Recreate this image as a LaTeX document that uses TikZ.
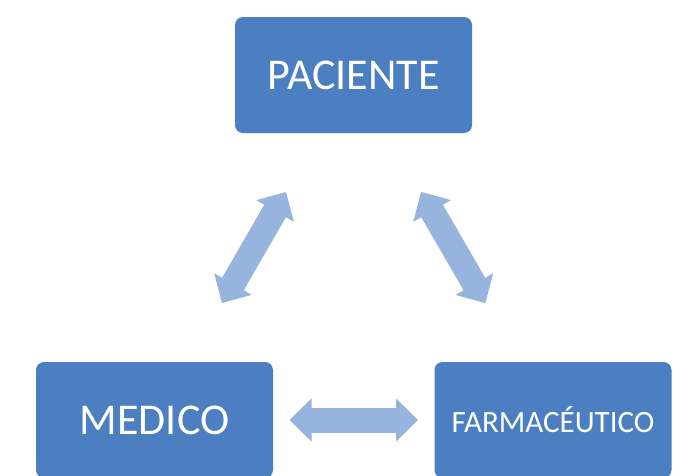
\documentclass[tikz,border=0pt]{standalone}
\usepackage{fontspec}
\setmainfont{Carlito}
\usetikzlibrary{arrows.meta}
\definecolor{boxblue}{RGB}{76,127,194}
\definecolor{arrowblue}{RGB}{150,180,222}
\tikzset{
  box/.style={draw=none, fill=boxblue, rounded corners=8pt, minimum width=237pt,
    minimum height=116pt, inner sep=0pt, text=white, font=\fontsize{44pt}{48pt}\selectfont},
  link/.style={draw=arrowblue, line width=25pt,
    {Triangle[length=22pt,width=42pt]}-{Triangle[length=22pt,width=42pt]},
    shorten <=135pt, shorten >=135pt}
}
\begin{document}
\begin{tikzpicture}[x=1pt,y=-1pt]
\useasboundingbox (0,0) rectangle (694,475);
\fill[white] (0,0) rectangle (694,475);
\node[box] (pac) at (353.5,75) {PACIENTE};
\node[box] (med) at (154.5,420) {MEDICO};
\node[box, font=\fontsize{31pt}{34pt}\selectfont] (far) at (553,420) {FARMACÉUTICO};
\draw[link] (pac.center) -- (med.center);
\draw[link] (pac.center) -- (far.center);
\draw[link] (med.center) -- (far.center);
\end{tikzpicture}
\end{document}
